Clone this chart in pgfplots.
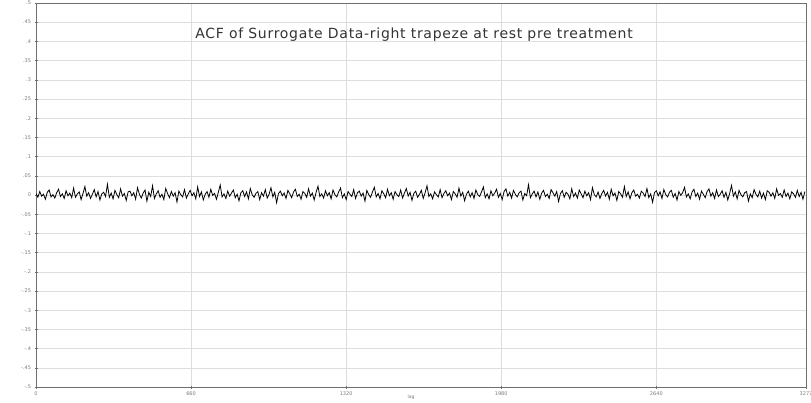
\documentclass[border=0pt]{standalone}
\usepackage{fontspec}
\setmainfont{DejaVu Sans}
\newfontfamily\titlefont[LetterSpace=5]{DejaVu Sans}
\usepackage{pgfplots}
\pgfplotsset{compat=1.18}
\definecolor{gridc}{RGB}{222,222,222}
\definecolor{axc}{RGB}{110,110,110}
\definecolor{tickc}{RGB}{120,120,120}
\begin{document}
\begin{tikzpicture}
\path[use as bounding box] (-36pt,-15pt) rectangle (775pt,387pt);
\begin{axis}[
  scale only axis, width=770pt, height=384pt,
  at={(0,0)}, anchor=south west,
  xmin=0, xmax=3277, ymin=-0.5, ymax=0.5,
  xtick={0,660,1320,1980,2640,3277},
  ytick={-0.5,-0.45,...,0.51},
  grid=major, major grid style={gridc, line width=0.5pt},
  axis line style={axc, line width=0.8pt},
  tick style={axc, line width=0.5pt}, tick align=center, major tick length=3pt,
  xtick pos=bottom, ytick pos=left,
  /pgf/number format/assume math mode=true,
  yticklabel style={/pgf/number format/.cd, fixed, precision=2, skip 0.},
  xticklabel style={/pgf/number format/.cd, fixed, 1000 sep={}},
  ticklabel style={font=\fontsize{5}{6}\selectfont, text=tickc},
  xlabel={lag}, xlabel style={font=\fontsize{4.5}{5}\selectfont, text=tickc, yshift=8pt, xshift=-10pt},
]
\node[font=\titlefont\fontsize{14}{16}\selectfont, text=black!80] at (rel axis cs:0.491,0.917) {ACF of Surrogate Data-right trapeze at rest pre treatment};
\addplot[black, line width=0.8pt, mark=none] table[x expr=\coordindex*8, y index=0, header=false, row sep=\\] {
.004\\ -.006\\ .009\\ -.003\\ .002\\ -.011\\ .007\\ .013\\ -.005\\ .001\\ -.008\\ .006\\ .015\\ -.004\\ .003\\ -.009\\ .011\\ -.002\\ .005\\ -.007\\
.018\\ -.006\\ .003\\ .008\\ -.012\\ .004\\ .022\\ -.003\\ .006\\ -.009\\ .002\\ .014\\ -.005\\ .009\\ -.013\\ .003\\ .007\\ -.004\\ .028\\ -.006\\
.005\\ -.010\\ .012\\ .001\\ -.007\\ .016\\ -.003\\ .004\\ -.014\\ .008\\ .010\\ -.002\\ .006\\ -.011\\ .019\\ .002\\ -.008\\ .005\\ .013\\ -.016\\
.007\\ -.004\\ .024\\ -.009\\ .003\\ .011\\ -.006\\ .002\\ -.012\\ .017\\ .004\\ -.007\\ .009\\ -.003\\ .006\\ -.018\\ .010\\ .001\\ -.005\\ .014\\
-.008\\ .003\\ .012\\ -.002\\ .006\\ -.010\\ .021\\ -.004\\ .008\\ -.013\\ .002\\ .009\\ -.006\\ .015\\ -.001\\ .004\\ -.011\\ .007\\ .026\\ -.005\\
.003\\ -.009\\ .010\\ -.003\\ .005\\ .013\\ -.007\\ .002\\ -.015\\ .006\\ .011\\ -.004\\ .008\\ -.010\\ .017\\ .001\\ -.006\\ .004\\ .009\\ -.012\\
.006\\ -.003\\ .014\\ -.008\\ .002\\ .019\\ -.005\\ .007\\ -.020\\ .004\\ .010\\ -.002\\ .005\\ -.009\\ .012\\ .003\\ -.007\\ .008\\ .015\\ -.004\\
.002\\ -.011\\ .009\\ .004\\ -.006\\ .016\\ -.003\\ .005\\ -.013\\ .007\\ .023\\ -.004\\ .003\\ -.008\\ .011\\ -.002\\ .006\\ -.010\\ .013\\ .001\\
-.005\\ .008\\ .018\\ -.007\\ .003\\ -.012\\ .009\\ .002\\ -.004\\ .014\\ -.009\\ .006\\ .010\\ -.003\\ .005\\ -.016\\ .012\\ .001\\ -.006\\ .008\\
.020\\ -.005\\ .004\\ -.010\\ .011\\ .003\\ -.007\\ .015\\ -.002\\ .006\\ -.011\\ .009\\ .001\\ -.004\\ .013\\ -.008\\ .005\\ .017\\ -.003\\ .007\\
-.014\\ .004\\ .010\\ -.006\\ .002\\ .012\\ -.009\\ .006\\ .024\\ -.004\\ .003\\ -.010\\ .008\\ .001\\ -.005\\ .014\\ -.007\\ .004\\ .011\\ -.002\\
.005\\ -.012\\ .009\\ .003\\ -.006\\ .018\\ -.003\\ .007\\ -.015\\ .002\\ .010\\ -.005\\ .006\\ -.009\\ .013\\ .001\\ -.004\\ .008\\ .021\\ -.007\\
.003\\ -.010\\ .011\\ -.002\\ .005\\ .015\\ -.006\\ .004\\ -.012\\ .009\\ .016\\ -.003\\ .007\\ -.008\\ .012\\ .002\\ -.005\\ .006\\ .010\\ -.013\\
.004\\ -.002\\ .027\\ -.007\\ .003\\ .010\\ -.005\\ .008\\ -.011\\ .005\\ .012\\ -.004\\ .002\\ -.009\\ .014\\ .006\\ -.003\\ .009\\ -.017\\ .004\\
.011\\ -.006\\ .007\\ .002\\ -.010\\ .016\\ -.004\\ .005\\ -.008\\ .013\\ .003\\ -.007\\ .010\\ -.002\\ .006\\ -.012\\ .019\\ .001\\ -.005\\ .008\\
-.009\\ .004\\ .012\\ -.003\\ .007\\ -.011\\ .015\\ -.002\\ .005\\ -.014\\ .009\\ .003\\ -.006\\ .022\\ -.004\\ .008\\ -.010\\ .006\\ .013\\ -.003\\
.002\\ -.008\\ .010\\ .005\\ -.004\\ .017\\ -.007\\ .003\\ -.019\\ .006\\ .011\\ -.002\\ .008\\ -.009\\ .014\\ .001\\ -.005\\ .007\\ .012\\ -.006\\
.004\\ -.013\\ .009\\ -.001\\ .006\\ .020\\ -.005\\ .003\\ -.010\\ .008\\ .015\\ -.004\\ .005\\ -.011\\ .010\\ .002\\ -.007\\ .009\\ .016\\ -.003\\
.006\\ -.009\\ .013\\ -.004\\ .002\\ .011\\ -.006\\ .007\\ -.013\\ .004\\ .025\\ -.003\\ .008\\ -.010\\ .012\\ .001\\ -.005\\ .006\\ .009\\ -.016\\
.003\\ -.007\\ .014\\ .002\\ -.005\\ .010\\ -.008\\ .005\\ -.012\\ .011\\ .007\\ -.003\\ .006\\ -.009\\ .016\\ -.001\\ .004\\ -.006\\ .013\\ -.004\\
.005\\ -.010\\ .008\\ .003\\ -.006\\ .012\\ -.004\\ .007\\ -.011\\ .009\\
};
\end{axis}
\end{tikzpicture}
\end{document}
